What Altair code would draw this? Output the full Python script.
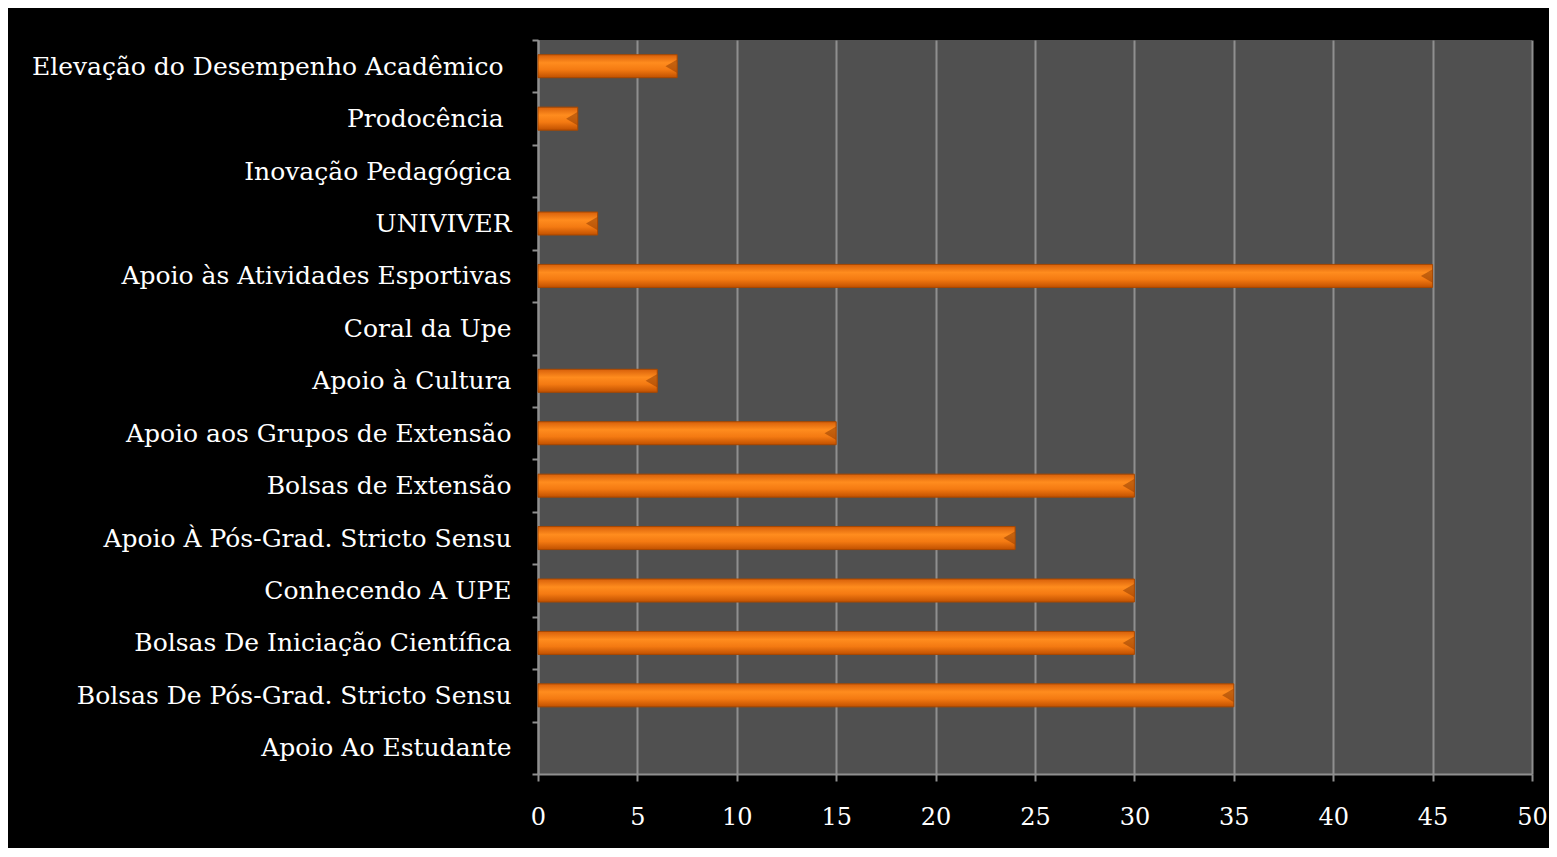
import altair as alt
import pandas as pd

categories = [
    "Elevação do Desempenho Acadêmico ",
    "Prodocência ",
    "Inovação Pedagógica",
    "UNIVIVER",
    "Apoio às Atividades Esportivas",
    "Coral da Upe",
    "Apoio à Cultura",
    "Apoio aos Grupos de Extensão",
    "Bolsas de Extensão",
    "Apoio À Pós-Grad. Stricto Sensu",
    "Conhecendo A UPE",
    "Bolsas De Iniciação Científica",
    "Bolsas De Pós-Grad. Stricto Sensu",
    "Apoio Ao Estudante",
]
values = [7, 2, 0, 3, 45, 0, 6, 15, 30, 24, 30, 30, 35, 0]
x_ticks = [0, 5, 10, 15, 20, 25, 30, 35, 40, 45, 50]

df = pd.DataFrame({"cat": categories, "val": values})

FONT = "DejaVu Serif"
GRID = "#8f8f8f"

gradient = alt.Gradient(
    gradient="linear",
    x1=0, y1=0, x2=0, y2=1,
    stops=[
        alt.GradientStop(color="#d8600a", offset=0),
        alt.GradientStop(color="#ff8c1e", offset=0.35),
        alt.GradientStop(color="#f47a12", offset=0.65),
        alt.GradientStop(color="#c05000", offset=1),
    ],
)

x_enc = alt.X(
    "val:Q",
    scale=alt.Scale(domain=[0, 50], nice=False),
    axis=alt.Axis(
        values=x_ticks, title=None, grid=True, gridColor=GRID, gridWidth=2,
        domainColor=GRID, domainWidth=2, tickColor=GRID, tickWidth=2,
        tickSize=7, labelPadding=24, labelFont=FONT, labelFontSize=24,
        labelColor="white", labelFlush=False,
    ),
)
y_enc = alt.Y(
    "cat:N",
    sort=categories,
    scale=alt.Scale(domain=categories, paddingInner=0, paddingOuter=0),
    axis=alt.Axis(
        title=None, grid=False, tickBand="extent", domainColor=GRID,
        domainWidth=2, tickColor=GRID, tickWidth=2, tickSize=6,
        labelPadding=21,
        labelExpr="slice(datum.label, -1) == ' ' ? datum.label + '\u200b' : datum.label",
        labelFont=FONT, labelFontSize=25,
        labelColor="white", labelLimit=600,
    ),
)

base = alt.Chart(df)

bars = base.mark_bar(
    size=23, fill=gradient, stroke="#a84800", strokeWidth=1
).encode(
    x=x_enc, y=y_enc,
    opacity=alt.condition("datum.val > 0", alt.value(1), alt.value(0)),
)

ends = base.transform_filter("datum.val > 0").mark_point(
    shape="triangle-left", filled=True, color="#8a3800", opacity=0.5,
    size=170, xOffset=-6,
).encode(x=x_enc, y=y_enc)

chart = (bars + ends).properties(
    width=994,
    height=734,
    autosize=alt.AutoSizeParams(type="none"),
    padding={"left": 530, "top": 32, "right": 17, "bottom": 74},
).configure(background="black").configure_view(fill="#505050", stroke=None)

chart.save("out.html", embed_options={"renderer": "svg", "actions": False})
